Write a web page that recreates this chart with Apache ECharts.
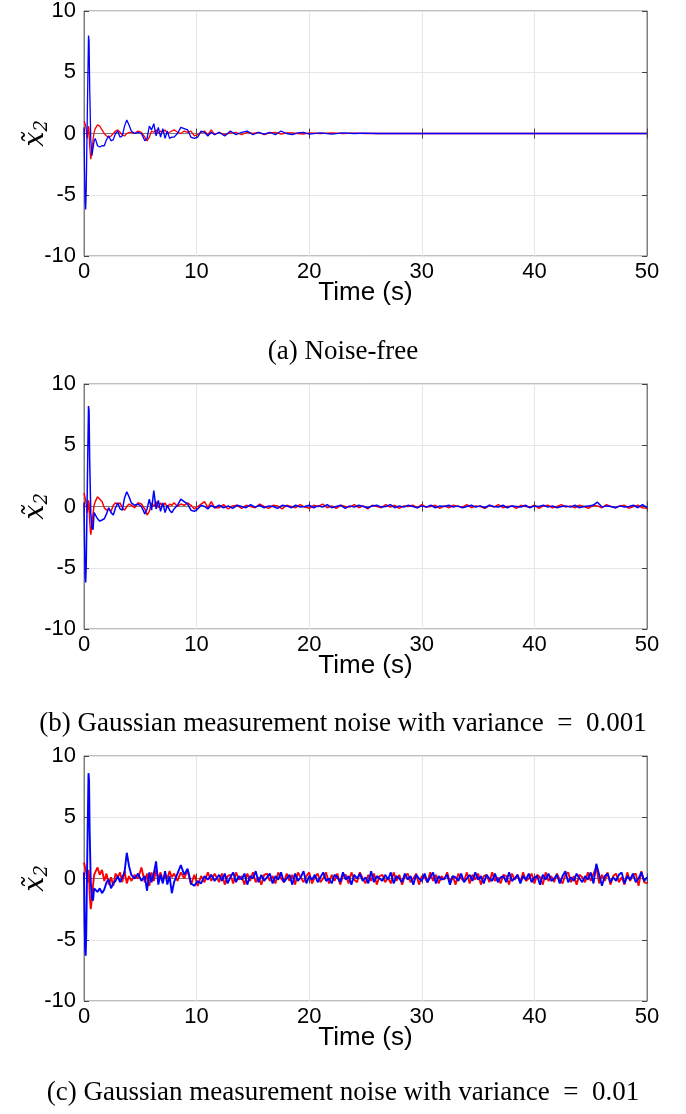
<!DOCTYPE html>
<html>
<head>
<meta charset="utf-8">
<script src="https://cdn.jsdelivr.net/npm/echarts@6/dist/echarts.min.js"></script>
<style>
html,body{margin:0;padding:0;background:#fff;}
#chart{width:686px;height:1114px;}
</style>
</head>
<body>
<div id="chart"></div>
<script>
// ---------- Data ----------
const xTicks = [0, 10, 20, 30, 40, 50];
const yTicks = [-10, -5, 0, 5, 10];
const captions = ['(a) Noise-free',
  '(b) Gaussian measurement noise with variance\u2002=\u20020.001',
  '(c) Gaussian measurement noise with variance\u2002=\u20020.01'];

// transient sampling times (s), shared by all panels
const transientTimes = [0,0.05,0.1,0.15,0.2,0.3,0.4,0.45,0.5,0.6,0.7,0.8,0.9,1.0,1.2,1.4,1.6,1.8,2.0,2.2,2.4,2.6,2.8,3.0,3.2,3.4,3.6,3.8,4.0,4.2,4.5,4.8,5.1,5.4,5.6,5.8,6.0,6.2,6.4,6.6,6.8,7.0,7.2,7.4,7.6,7.8,8.0,8.3,8.6,8.9,9.2,9.5,9.8,10.1,10.4,10.7,11.0,11.3,11.6];

// (a) noise-free
const blueATransient = [0.5,-3,-5.5,-6.2,-4.5,2,8,7.5,4,-0.5,-1.8,-1.9,-0.6,-0.4,-1.0,-1.1,-1.0,-1.0,-0.5,-0.2,-0.6,-0.5,0,0.2,-0.3,-0.2,0.6,1.1,0.7,0.2,0.0,0.1,0.0,-0.6,-0.4,0.6,0.3,0.8,-0.2,0.5,-0.3,0.4,-0.4,0.2,-0.4,-0.3,-0.3,0.0,0.5,0.4,0.3,-0.3,-0.4,-0.3,0.2,0.1,-0.2,0.1,-0.1];
const redATransient = [1.0,1.0,0.8,0.6,0.3,-0.4,0.6,0.3,-1.0,-2.1,-1.5,-0.5,0.1,0.4,0.7,0.6,0.3,0.0,-0.2,-0.3,-0.2,0.0,0.2,0.3,0.1,-0.1,-0.2,0.0,0.1,0.1,0.0,0.2,0.1,-0.3,-0.6,-0.3,0.2,0.1,0.3,0.0,0.2,0.1,0.3,0.0,0.1,0.2,0.3,0.1,0.0,0.2,0.1,0.2,-0.2,-0.1,0.1,0.2,-0.1,0.3,-0.1];
const tailTimesA = [12,12.5,13,13.5,14,14.5,15,15.5,16,16.5,17,17.5,18,18.5,19,19.5,20,21,22,23,24,25,26,27,50];
const blueATail = [0.1,-0.2,0.2,-0.1,0.1,0.2,-0.1,0.1,-0.05,0.1,-0.1,0.2,0,-0.1,0.05,0.1,-0.05,0.05,-0.05,0.05,0,0.03,0,0,0];
const redATail = [0.1,-0.1,0.05,0.1,-0.1,0.1,0,0.1,-0.1,0.05,0.1,-0.05,0.05,0.05,0,-0.05,0.05,0,0.05,0,0.03,0,0,0,0];

// (b) variance 0.001
const blueBTransient = [0.3,-3,-5.6,-6.2,-4.6,2,8.2,7.8,4,-0.5,-1.7,-1.9,-0.5,-0.4,-1.0,-1.2,-1.1,-1.0,-0.6,-0.1,-0.5,-0.7,-0.1,0.3,-0.2,-0.3,0.7,1.2,0.8,0.3,0.1,0.2,0.0,-0.6,-0.2,0.6,-0.3,1.3,-0.2,0.5,-0.4,0.3,-0.5,0.1,-0.3,-0.5,-0.2,0.1,0.6,0.4,0.2,-0.3,-0.4,-0.2,0.1,0.0,-0.2,0.1,-0.1];
const redBTransient = [1.1,1.0,0.7,0.5,0.4,-0.5,0.5,0.2,-1.1,-2.3,-1.6,-0.6,0.1,0.4,0.8,0.6,0.4,-0.1,-0.3,-0.2,-0.4,0.1,0.3,0.2,0.3,-0.1,-0.3,0.0,0.2,0.1,-0.1,0.3,0.2,-0.2,-0.7,-0.4,0.3,0.0,0.4,-0.1,0.3,0.0,0.3,-0.1,0.2,0.1,0.3,0.0,0.2,0.1,0.3,0.1,-0.2,0.0,0.2,0.4,-0.1,0.4,-0.1];
const noiseStartB = 12, noiseStepB = 0.4;
const blueBNoise = [0.1,-0.1,0.05,-0.15,0.1,0.0,-0.1,0.15,-0.05,0.1,
 -0.1,0.05,0.0,-0.15,0.1,0.05,-0.1,0.1,-0.05,0.0,
 0.1,-0.1,0.05,-0.05,0.15,-0.1,0.0,0.1,-0.15,0.05,
 -0.05,0.1,0.0,-0.1,0.05,0.1,-0.05,0.0,0.15,-0.1,
 0.05,-0.05,0.1,0.0,-0.1,0.05,-0.05,0.1,-0.1,0.05,
 0.0,0.1,-0.05,0.05,-0.1,0.0,0.1,-0.05,0.05,-0.1,
 0.1,0.0,-0.05,0.1,-0.1,0.05,0.0,-0.05,0.1,-0.1,
 0.05,0.0,0.1,-0.05,0.05,-0.1,0.0,0.05,-0.05,0.1,
 -0.1,0.0,0.05,0.1,0.35,-0.05,0.05,0.0,-0.1,0.05,
 -0.05,0.0,0.1,-0.1,0.15,-0.1];
const redBNoise = [-0.1,0.15,-0.2,0.05,0.1,-0.15,0.1,0.0,-0.1,0.2,
 0.0,-0.15,0.1,0.05,-0.2,0.1,0.0,-0.1,0.15,-0.05,
 -0.15,0.1,0.0,0.2,-0.1,0.05,-0.15,0.1,0.0,-0.05,
 0.15,-0.1,0.05,-0.2,0.1,0.0,-0.1,0.15,-0.05,0.1,
 -0.15,0.05,0.0,0.1,-0.1,0.15,-0.05,0.0,0.1,-0.15,
 0.05,-0.1,0.1,0.0,-0.05,0.15,-0.1,0.05,0.0,-0.15,
 0.1,-0.05,0.15,-0.1,0.0,0.05,-0.15,0.1,0.0,-0.05,
 0.1,-0.15,0.05,0.1,-0.1,0.0,0.15,-0.05,0.05,-0.1,
 0.1,0.0,-0.15,0.1,0.05,-0.1,0.15,0.0,-0.1,0.05,
 0.1,-0.15,0.0,0.1,-0.1,-0.15];

// (c) variance 0.01
const blueCTransient = [0.5,-3.5,-5.8,-6.3,-4.5,2.5,8.6,8.0,4,-0.3,-1.6,-1.8,-0.8,-0.9,-1.1,-0.8,-1.2,-0.9,-0.3,-0.1,-0.8,-0.4,-0.2,0.2,-0.3,0.1,0.5,2.1,1.0,0.3,0.0,0.4,-0.2,0.2,-1.0,0.5,-0.3,0.4,1.4,-0.5,0.3,-0.4,0.6,-0.5,0.2,-1.2,-0.3,0.4,1.1,0.3,0.8,-0.4,-0.6,-0.2,-0.4,0.2,-0.1,0.3,-0.2];
const redCTransient = [1.3,1.2,0.9,1.0,0.5,-0.3,0.7,0.2,-1.2,-2.5,-1.7,-0.6,0.3,0.5,0.9,0.3,0.7,-0.2,0.4,-0.5,0.1,-0.6,0.4,0.1,0.5,-0.3,0.6,-0.4,0.2,-0.2,0.3,0.0,0.9,-0.3,0.4,-0.6,0.5,-0.2,0.7,0.0,0.5,-0.2,0.4,0.0,0.6,0.1,0.4,-0.2,0.5,0.0,0.7,-0.5,0.3,-0.6,0.2,-0.3,0.5,-0.2,0.4];
const noiseStartC = 12, noiseStepC = 0.25;
const blueCNoise = [0.3,-0.2,0.4,-0.4,0.1,0.5,-0.3,0.2,-0.1,0.4,
 -0.5,0.2,0.0,0.6,-0.3,0.3,-0.2,0.1,0.4,-0.4,
 0.2,-0.1,0.5,-0.3,0.0,0.3,-0.5,0.4,-0.2,0.1,
 0.6,-0.4,0.2,-0.1,0.3,-0.3,0.1,0.5,-0.2,0.0,
 -0.4,0.3,0.1,-0.3,0.5,-0.1,0.2,-0.5,0.3,0.0,
 0.4,-0.2,0.1,-0.4,0.6,-0.3,0.2,0.0,-0.2,0.3,
 -0.1,0.5,-0.4,0.2,0.0,-0.3,0.4,-0.1,0.2,-0.5,
 0.3,0.0,-0.2,0.4,-0.3,0.1,0.5,-0.4,0.2,-0.1,
 0.0,0.3,-0.5,0.2,0.1,-0.2,0.4,-0.3,0.0,0.3,
 -0.2,0.5,-0.1,0.2,-0.4,0.3,0.0,-0.2,0.4,-0.3,
 0.1,0.2,-0.3,0.5,-0.2,0.0,0.3,-0.4,0.2,-0.1,
 0.4,-0.3,0.1,0.2,-0.5,0.3,-0.1,0.4,-0.2,0.0,
 0.3,-0.4,0.2,0.6,-0.3,0.1,-0.2,0.4,0.0,-0.3,
 0.2,-0.1,0.5,-0.4,1.2,0.3,-0.6,0.2,0.4,-0.3,
 0.1,-0.2,0.3,0.5,-0.4,0.2,-0.1,0.4,-0.3,0.0,
 0.5,-0.2,0.1];
const redCNoise = [-0.3,0.4,-0.5,0.2,0.3,-0.4,0.5,-0.1,0.2,-0.5,
 0.4,-0.2,0.5,-0.3,0.1,-0.5,0.3,0.4,-0.2,0.2,
 -0.4,0.5,0.0,-0.3,0.4,-0.2,0.3,-0.5,0.5,0.1,
 -0.3,0.2,0.5,-0.4,0.1,0.4,-0.3,0.0,0.5,-0.4,
 0.3,-0.2,0.4,-0.5,0.2,0.3,-0.4,0.5,-0.1,-0.3,
 0.5,0.0,-0.4,0.3,-0.2,0.4,-0.5,0.2,0.3,-0.3,
 0.1,-0.4,0.5,-0.2,0.3,-0.5,0.2,0.4,-0.3,0.0,
 0.4,-0.5,0.2,0.1,-0.3,0.5,-0.2,0.3,-0.4,0.2,
 -0.1,0.5,-0.3,0.2,-0.5,0.4,0.0,-0.2,0.5,-0.4,
 0.3,-0.1,0.4,-0.5,0.2,0.3,-0.3,0.5,-0.2,0.1,
 -0.4,0.3,0.2,-0.5,0.4,-0.1,0.3,-0.3,0.5,-0.2,
 0.0,0.4,-0.4,0.3,0.1,-0.5,0.5,-0.2,0.2,-0.3,
 0.4,-0.1,-0.4,0.3,0.5,-0.3,0.2,-0.5,0.3,0.1,
 -0.3,0.5,-0.2,0.4,0.9,-0.4,0.3,-0.2,0.5,-0.5,
 0.2,0.4,-0.3,0.1,-0.5,0.5,-0.2,0.3,0.4,-0.6,
 0.6,-0.3,-0.4];

// ---------- Build ----------
function pairs(times, values) { return times.map((t, i) => [t, values[i]]); }
function noisePairs(start, step, values) { return values.map((v, i) => [start + i * step, v]); }

const panels = [
  { red: pairs(transientTimes, redATransient).concat(pairs(tailTimesA, redATail)),
    blue: pairs(transientTimes, blueATransient).concat(pairs(tailTimesA, blueATail)), lw: 1.3 },
  { red: pairs(transientTimes, redBTransient).concat(noisePairs(noiseStartB, noiseStepB, redBNoise)),
    blue: pairs(transientTimes, blueBTransient).concat(noisePairs(noiseStartB, noiseStepB, blueBNoise)), lw: 1.5 },
  { red: pairs(transientTimes, redCTransient).concat(noisePairs(noiseStartC, noiseStepC, redCNoise)),
    blue: pairs(transientTimes, blueCTransient).concat(noisePairs(noiseStartC, noiseStepC, blueCNoise)), lw: 1.9 }
];

const gridTops = [11, 384, 756];
const gridH = 245;
const captionTops = [333, 705, 1074];
const axisColor = '#7f7f7f';
const tickFont = { fontFamily: 'Liberation Sans, Arial, sans-serif', fontSize: 22, color: '#000' };

const grid = [], xAxis = [], yAxis = [], series = [], title = [];
panels.forEach((p, k) => {
  grid.push({ left: 84, right: 39, top: gridTops[k], height: gridH, show: true, borderColor: axisColor, borderWidth: 1,
    backgroundColor: '#fff', containLabel: false, outerBoundsMode: 'none' });
  const xBase = {
    gridIndex: k, type: 'value', min: xTicks[0], max: xTicks[xTicks.length - 1], interval: 10,
    axisLine: { show: true, lineStyle: { color: axisColor, width: 1 } },
    axisTick: { show: true, inside: true, length: 5, lineStyle: { color: '#444' } }
  };
  xAxis.push(Object.assign({}, xBase, {
    position: 'bottom',
    name: 'Time (s)', nameLocation: 'middle', nameGap: 24, nameMoveOverlap: false,
    nameTextStyle: { fontFamily: 'Liberation Sans, Arial, sans-serif', fontSize: 26, color: '#000', verticalAlign: 'top' },
    axisLabel: Object.assign({ margin: 5 }, tickFont),
    splitLine: { show: true, lineStyle: { color: '#e6e6e6', width: 1 } }
  }));
  xAxis.push(Object.assign({}, xBase, { position: 'top', axisLabel: { show: false }, splitLine: { show: false } }));
  const yBase = {
    gridIndex: k, type: 'value', min: yTicks[0], max: yTicks[yTicks.length - 1], interval: 5,
    axisLine: { show: true, onZero: false, lineStyle: { color: axisColor, width: 1 } },
    axisTick: { show: true, inside: true, length: 5, lineStyle: { color: '#444' } }
  };
  yAxis.push(Object.assign({}, yBase, {
    position: 'left',
    name: '{a|x\u0303}{b|2}', nameLocation: 'middle', nameGap: 33, nameRotate: 90, nameMoveOverlap: false,
    nameTextStyle: {
      rich: {
        a: { fontFamily: 'DejaVu Serif', fontStyle: 'italic', fontSize: 27, color: '#000' },
        b: { fontFamily: 'DejaVu Serif', fontStyle: 'italic', fontSize: 18, color: '#000', padding: [12, 0, 0, 0] }
      }
    },
    axisLabel: Object.assign({ margin: 8 }, tickFont),
    splitLine: { show: true, lineStyle: { color: '#e6e6e6', width: 1 } }
  }));
  yAxis.push(Object.assign({}, yBase, { position: 'right', axisLabel: { show: false }, splitLine: { show: false } }));
  series.push({ type: 'line', xAxisIndex: 2 * k, yAxisIndex: 2 * k, data: p.red, showSymbol: false, symbol: 'none',
    lineStyle: { color: '#ff0000', width: p.lw }, itemStyle: { color: '#ff0000' }, z: 3 });
  series.push({ type: 'line', xAxisIndex: 2 * k, yAxisIndex: 2 * k, data: p.blue, showSymbol: false, symbol: 'none',
    lineStyle: { color: '#0000ff', width: p.lw }, itemStyle: { color: '#0000ff' }, z: 4 });
  title.push({ text: captions[k], left: 'center', top: captionTops[k],
    textStyle: { fontFamily: 'Liberation Serif, Times New Roman, serif', fontSize: 27, fontWeight: 'normal', color: '#000' } });
});

const chart = echarts.init(document.getElementById('chart'), null, { renderer: 'canvas' });
chart.setOption({ animation: false, backgroundColor: '#fff', title, grid, xAxis, yAxis, series });
</script>
</body>
</html>
